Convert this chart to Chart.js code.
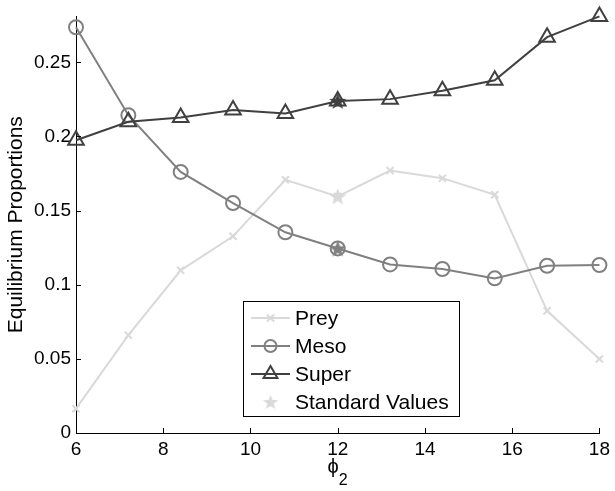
<!DOCTYPE html>
<html>
<head>
<meta charset="utf-8">
<script src="https://cdn.jsdelivr.net/npm/chart.js@4.4.0/dist/chart.umd.min.js"></script>
<style>
  html, body { margin: 0; padding: 0; background: #fff; }
</style>
</head>
<body>
<canvas id="chart" width="615" height="491"></canvas>
<script>
// equilibrium proportions against phi_2
var phi2 = [6, 7.2, 8.4, 9.6, 10.8, 12, 13.2, 14.4, 15.6, 16.8, 18];
var prey = [0.0164, 0.0660, 0.1097, 0.1327, 0.1708, 0.1596, 0.1770, 0.1719, 0.1607, 0.0824, 0.0499];
var meso = [0.2737, 0.2144, 0.1761, 0.1551, 0.1354, 0.1245, 0.1137, 0.1106, 0.1043, 0.1128, 0.1133];
var superPred = [0.1975, 0.2099, 0.2128, 0.2178, 0.2155, 0.2240, 0.2252, 0.2309, 0.2379, 0.2670, 0.2810];
var standardPhi2 = 12;
var xTicks = [6, 8, 10, 12, 14, 16, 18];
var yTicks = [0, 0.05, 0.1, 0.15, 0.2, 0.25];

var preyColor = '#d9d9d9';
var mesoColor = '#808080';
var superColor = '#404040';
var fontFamily = "'Liberation Sans', Arial, Helvetica, sans-serif";

function pts(ys) {
    return phi2.map(function(x, i) { return {x: x, y: ys[i]}; });
}

// filled five point star, used as an image point style
function starImage(color, r) {
    var c = document.createElement('canvas');
    var s = Math.ceil(r * 2 + 2);
    c.width = c.height = s;
    var g = c.getContext('2d');
    g.fillStyle = color;
    g.beginPath();
    for (var i = 0; i < 10; i++) {
        var rr = i % 2 ? r * 0.42 : r;
        var a = -Math.PI / 2 + i * Math.PI / 5;
        g.lineTo(s / 2 + rr * Math.cos(a), s / 2 + rr * Math.sin(a) + r * 0.08);
    }
    g.closePath();
    g.fill();
    return c;
}

var k = phi2.indexOf(standardPhi2);

function series(label, ys, color, style, radius, order) {
    return {
        label: label,
        data: pts(ys),
        borderColor: color,
        borderWidth: 2,
        pointStyle: style,
        pointRadius: radius,
        pointBorderWidth: 2,
        pointBorderColor: color,
        pointBackgroundColor: 'rgba(0,0,0,0)',
        showLine: true,
        clip: false,
        order: order
    };
}

function star(label, y, color, order) {
    return {
        label: label,
        data: [{x: standardPhi2, y: y}],
        pointStyle: starImage(color, 9),
        pointRadius: 9,
        showLine: false,
        clip: false,
        order: order,
        legendStar: color
    };
}

var datasets = [
    series('Prey', prey, preyColor, 'crossRot', 5, 3),
    series('Meso', meso, mesoColor, 'circle', 7, 2),
    series('Super', superPred, superColor, 'triangle', 9, 1),
    star('Standard Values', prey[k], preyColor, 0),
    star('', meso[k], mesoColor, 0),
    star('', superPred[k], superColor, 0)
];

// ticks pointing into the plot area, both axes
var inwardTicks = {
    id: 'inwardTicks',
    afterDraw: function(chart) {
        var ctx = chart.ctx, a = chart.chartArea;
        var xs = chart.scales.x, ys = chart.scales.y;
        ctx.save();
        ctx.strokeStyle = '#000';
        ctx.lineWidth = 1;
        ctx.beginPath();
        xTicks.forEach(function(v) {
            var px = Math.round(xs.getPixelForValue(v)) + 0.5;
            ctx.moveTo(px, a.bottom);
            ctx.lineTo(px, a.bottom - 5);
        });
        yTicks.forEach(function(v) {
            var py = Math.round(ys.getPixelForValue(v)) + 0.5;
            ctx.moveTo(a.left, py);
            ctx.lineTo(a.left + 5, py);
        });
        ctx.stroke();

        // x title: phi with subscript 2
        var cx = (a.left + a.right) / 2;
        ctx.fillStyle = '#000';
        ctx.textBaseline = 'alphabetic';
        ctx.font = '20px ' + fontFamily;
        ctx.textAlign = 'right';
        ctx.fillText('\u03d5', cx + 1, 473);
        ctx.font = '16px ' + fontFamily;
        ctx.textAlign = 'left';
        ctx.fillText('2', cx + 1, 485);
        ctx.restore();
    }
};

// legend box drawn inside the plot
var legendBox = {
    id: 'legendBox',
    afterDraw: function(chart) {
        var ctx = chart.ctx;
        var bx = 243, by = 301, bw = 216, bh = 115;
        ctx.save();
        ctx.fillStyle = '#fff';
        ctx.fillRect(bx, by, bw, bh);
        ctx.strokeStyle = '#000';
        ctx.lineWidth = 1;
        ctx.strokeRect(bx + 0.5, by + 0.5, bw, bh);
        var rows = [318, 346, 374, 402];
        var items = chart.data.datasets.filter(function(d) { return d.label; });
        items.forEach(function(d, i) {
            var y = rows[i];
            var mx = 270.5;
            if (d.legendStar) {
                var img = starImage(d.legendStar, 8);
                ctx.drawImage(img, mx - img.width / 2, y - img.height / 2);
            } else {
                ctx.strokeStyle = d.borderColor;
                ctx.lineWidth = 2;
                ctx.beginPath();
                ctx.moveTo(251, y);
                ctx.lineTo(290, y);
                ctx.stroke();
                ctx.fillStyle = 'rgba(0,0,0,0)';
                Chart.helpers.drawPoint(ctx, {
                    pointStyle: d.pointStyle,
                    radius: d.pointStyle === 'circle' ? 6 : (d.pointStyle === 'triangle' ? 8 : 5),
                    borderWidth: 2,
                    rotation: 0
                }, mx, y);
            }
            ctx.fillStyle = '#000';
            ctx.font = '21px ' + fontFamily;
            ctx.textAlign = 'left';
            ctx.textBaseline = 'middle';
            ctx.fillText(d.label, 295, y + 1);
        });
        ctx.restore();
    }
};

var ctx = document.getElementById('chart').getContext('2d');
var chart = new Chart(ctx, {
    type: 'scatter',
    data: {datasets: datasets},
    options: {
        responsive: false,
        animation: false,
        layout: {padding: {top: 14, right: 12, left: 0, bottom: 0}},
        plugins: {legend: {display: false}, tooltip: {enabled: false}},
        scales: {
            x: {
                type: 'linear',
                min: 6,
                max: 18,
                afterBuildTicks: function(s) { s.ticks = xTicks.map(function(v) { return {value: v}; }); },
                afterFit: function(s) { s.height = 58; },
                grid: {display: false, drawTicks: false},
                border: {display: true, color: '#000', width: 1},
                ticks: {
                    color: '#000',
                    padding: 5,
                    maxRotation: 0,
                    font: {family: fontFamily, size: 19}
                }
            },
            y: {
                type: 'linear',
                min: 0,
                max: Math.max.apply(null, superPred),
                afterBuildTicks: function(s) { s.ticks = yTicks.map(function(v) { return {value: v}; }); },
                afterFit: function(s) { s.width = 76; },
                grid: {display: false, drawTicks: false},
                border: {display: true, color: '#000', width: 1},
                title: {
                    display: true,
                    text: 'Equilibrium Proportions',
                    color: '#000',
                    font: {family: fontFamily, size: 21},
                    padding: {top: 4, bottom: 0}
                },
                ticks: {
                    color: '#000',
                    padding: 5,
                    font: {family: fontFamily, size: 19},
                    callback: function(v) { return String(+v.toFixed(2)); }
                }
            }
        }
    },
    plugins: [inwardTicks, legendBox]
});
</script>
</body>
</html>
